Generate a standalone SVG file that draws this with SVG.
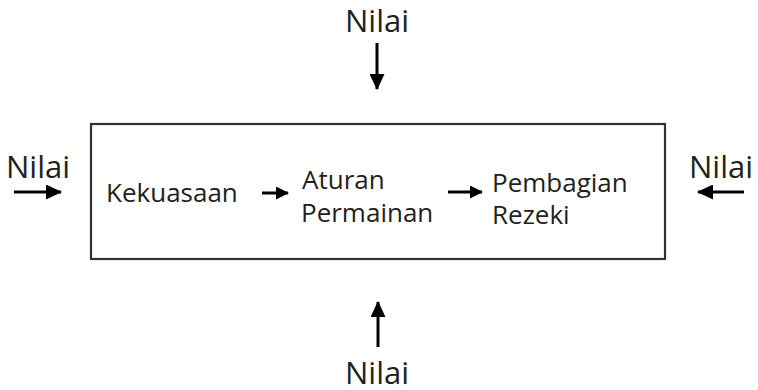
<svg xmlns="http://www.w3.org/2000/svg" width="758" height="390" viewBox="0 0 758 390">
  <style>
    .lbl { font-family: "Open Sans", "Noto Sans", sans-serif; fill: #231f20; }
    .big { font-size: 31px; }
    .mid { font-size: 26px; }
    .arr { stroke: #000; stroke-width: 3; fill: none; }
  </style>
  <defs>
    <marker id="head" viewBox="0 0 16 15" refX="15" refY="7.5" markerWidth="16" markerHeight="15" markerUnits="userSpaceOnUse" orient="auto">
      <path d="M0,0 L16,7.5 L0,15 z" fill="#000"/>
    </marker>
    <marker id="head-sm" viewBox="0 0 13 13" refX="12" refY="6.5" markerWidth="13" markerHeight="13" markerUnits="userSpaceOnUse" orient="auto">
      <path d="M0,0 L13,6.5 L0,13 z" fill="#000"/>
    </marker>
  </defs>
  <rect width="758" height="390" fill="#fff"/>

  <g id="system">
    <rect x="91" y="124" width="574" height="135" fill="none" stroke="#333" stroke-width="2.2"/>
  </g>
  <g id="kekuasaan">
    <text class="lbl mid" x="106" y="202">Kekuasaan</text>
  </g>
  <g id="aturan">
    <text class="lbl mid" x="302" y="189">Aturan</text>
    <text class="lbl mid" x="301" y="222">Permainan</text>
  </g>
  <g id="pembagian">
    <text class="lbl mid" x="492" y="192">Pembagian</text>
    <text class="lbl mid" x="492" y="224">Rezeki</text>
  </g>
  <g id="nilai-top">
    <text class="lbl big" x="377" y="32" text-anchor="middle">Nilai</text>
  </g>
  <g id="nilai-left">
    <text class="lbl big" x="38" y="178" text-anchor="middle">Nilai</text>
  </g>
  <g id="nilai-right">
    <text class="lbl big" x="721" y="178" text-anchor="middle">Nilai</text>
  </g>
  <g id="nilai-bottom">
    <text class="lbl big" x="377" y="384" text-anchor="middle">Nilai</text>
  </g>

  <g id="connectors" class="arr">
    <line x1="377" y1="43" x2="377" y2="89" marker-end="url(#head)"/>
    <line x1="378" y1="347" x2="378" y2="302" marker-end="url(#head)"/>
    <line x1="14" y1="192" x2="61" y2="192" marker-end="url(#head)"/>
    <line x1="744" y1="192" x2="698" y2="192" marker-end="url(#head)"/>
    <line x1="262" y1="193" x2="288" y2="193" marker-end="url(#head-sm)"/>
    <line x1="448" y1="192" x2="482" y2="192" marker-end="url(#head-sm)"/>
  </g>
</svg>
